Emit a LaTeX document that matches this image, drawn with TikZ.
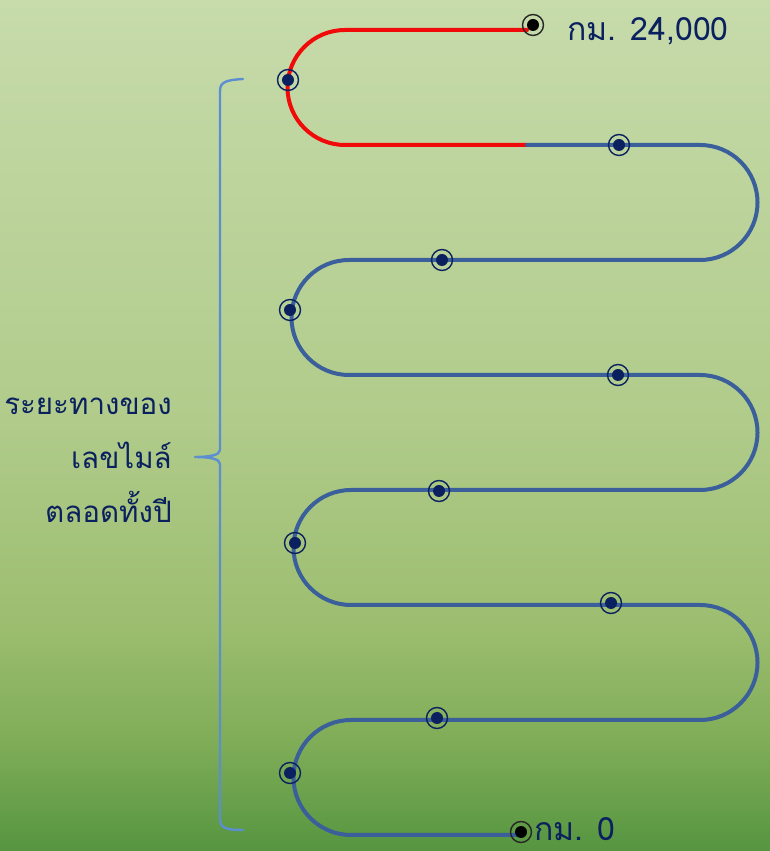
\documentclass[tikz,border=0pt]{standalone}
\usepackage{fontspec}
\usepackage{xcolor}
\newfontfamily\thaifont[Script=Thai]{Loma}
\definecolor{bgtop}{HTML}{C7DBAB}
\definecolor{bgmid}{HTML}{B0CB8A}
\definecolor{bglow}{HTML}{9DBE70}
\definecolor{bgdeep}{HTML}{80AD58}
\definecolor{bgbot}{HTML}{569540}
\definecolor{road}{HTML}{3B5F9B}
\definecolor{roadred}{HTML}{F00A0A}
\definecolor{navy}{HTML}{0B215F}
\definecolor{bracecol}{HTML}{5B8FD0}
\pgfdeclareverticalshading{fieldgrad}{100bp}{%
  color(0bp)=(bgbot); color(25bp)=(bgbot); color(31.5bp)=(bgdeep);
  color(38.6bp)=(bglow); color(50bp)=(bgmid); color(75bp)=(bgtop);
  color(100bp)=(bgtop)}
\tikzset{
  roadLine/.style={line width=4pt, line cap=round, line join=round},
  stopRing/.style={circle, draw=navy, line width=1.4pt, fill=none, minimum size=21pt, inner sep=0pt},
  stopDot/.style={circle, fill=navy, minimum size=12pt, inner sep=0pt},
  endRing/.style={circle, draw=black!85, line width=1.4pt, minimum size=21pt, inner sep=0pt},
  endDot/.style={circle, fill=black, minimum size=12pt, inner sep=0pt},
  kmLbl/.style={text=navy, font=\thaifont\fontsize{32}{36}\selectfont, anchor=base west, inner sep=0pt, text depth=0pt},
  sideLbl/.style={text=navy, font=\thaifont\fontsize{29.5}{54}\selectfont, align=right, anchor=east, inner sep=0pt},
  braceLine/.style={draw=bracecol, line width=2.4pt, line cap=round, line join=round},
}
\newcommand{\RoadStop}[2]{%
  \node[stopDot] (#1) at #2 {};
  \node[stopRing] at (#1) {};
}
\begin{document}
\begin{tikzpicture}[x=1pt, y=1pt]
  \useasboundingbox (0,0) rectangle (770,851);
  \shade[shading=fieldgrad] (0,0) rectangle (770,851);

  % Red part of the road
  \draw[roadLine, draw=roadred] (527,821) -- (345,821)
    arc[start angle=90, end angle=270, radius=57.5] -- (527,706);

  % Blue part of the road
  \draw[roadLine, draw=road] (527,706) -- (700,706)
    arc[start angle=90, end angle=-90, radius=57.5] -- (349,591)
    arc[start angle=90, end angle=270, radius=57.5] -- (700,476)
    arc[start angle=90, end angle=-90, radius=57.5] -- (351,361)
    arc[start angle=90, end angle=270, radius=57.5] -- (700,246)
    arc[start angle=90, end angle=-90, radius=57.5] -- (351,131)
    arc[start angle=90, end angle=270, radius=57.5] -- (520,16);

  % Stops along the road
  \RoadStop{s1}{(288,771)}
  \RoadStop{s2}{(619,706)}
  \RoadStop{s3}{(442,591)}
  \RoadStop{s4}{(290,541)}
  \RoadStop{s5}{(618,476)}
  \RoadStop{s6}{(439,360)}
  \RoadStop{s7}{(295,308)}
  \RoadStop{s8}{(611,248)}
  \RoadStop{s9}{(437,133)}
  \RoadStop{s10}{(290,78)}

  % End points
  \node[endDot] (top) at (533,826) {};
  \node[endRing] at (top) {};
  \node[endDot] (bot) at (521,19) {};
  \node[endRing] at (bot) {};

  \node[kmLbl] (topLbl) at (567,810) {กม. 24,000};
  \node[kmLbl] (botLbl) at (534,10) {กม. 0};

  % Brace and its label
  \coordinate (braceHigh) at (243,772);
  \coordinate (braceTip) at (195,394);
  \coordinate (braceLow) at (243,21);
  \draw[braceLine] (braceHigh) .. controls (226,771) and (220,769) .. (220,760)
    -- (220,401) .. controls (220,396) and (210,394) .. (braceTip)
    .. controls (210,394) and (220,392) .. (220,387)
    -- (220,32) .. controls (220,23) and (226,21) .. (braceLow);
  \node[sideLbl] (sideTxt) at (172,391) {ระยะทางของ\\เลขไมล์\\ตลอดทั้งปี};
\end{tikzpicture}
\end{document}
